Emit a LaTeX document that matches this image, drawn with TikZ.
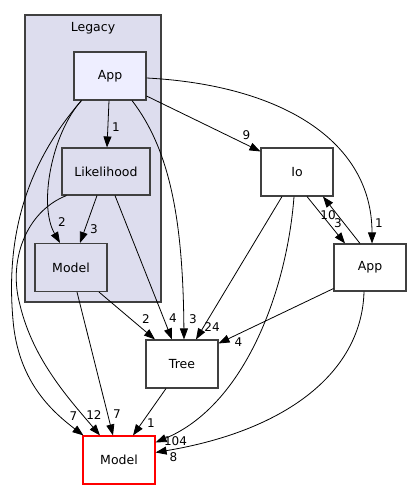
\documentclass[tikz,border=0pt]{standalone}
\usepackage{fontspec}
\setmainfont{DejaVu Sans}
\usetikzlibrary{arrows.meta}
\definecolor{frame}{HTML}{404040}
\definecolor{clusterbg}{HTML}{DDDDEE}
\definecolor{mainbg}{HTML}{EEEEFF}
\definecolor{hot}{HTML}{FF0000}

\begin{document}
\begin{tikzpicture}[x=1pt,y=-1pt,>={Triangle[length=11pt,width=8pt]},font=\fontsize{12.5}{14}\selectfont]
 \tikzstyle{dirnode}=[rectangle,draw=frame,line width=1.1pt,fill=white,minimum width=72pt,minimum height=48pt,inner sep=0pt]
 \tikzstyle{innode}=[dirnode,fill=clusterbg]
 \tikzstyle{topnode}=[dirnode,fill=mainbg]
 \tikzstyle{hotnode}=[dirnode,draw=hot]
 \tikzstyle{cluster}=[rectangle,draw=frame,line width=1.1pt,fill=clusterbg,minimum width=136pt,minimum height=287pt,inner sep=0pt]
 \tikzstyle{dep}=[->,black,line width=0.8pt]
 \tikzstyle{lbl}=[inner sep=0pt,font=\fontsize{12}{14}\selectfont]
 \useasboundingbox (0,0) rectangle (411,489);
 % Legacy cluster
 \node[cluster] (legacy) at (93,158.5) {};
 \node[inner sep=0pt] (legacytitle) at (93,28) {Legacy};
 \node[topnode] (lapp) at (110,76) {App};
 \node[innode,minimum width=88pt,minimum height=47pt] (lh) at (106,171.5) {Likelihood};
 \node[innode] (lmodel) at (71,267.5) {Model};
 % outside
 \node[dirnode] (io) at (297,172) {Io};
 \node[dirnode,minimum height=47pt] (rapp) at (370,267.5) {App};
 \node[dirnode] (tree) at (182,364) {Tree};
 \node[hotnode] (model) at (119,460) {Model};
 % Legacy/App
 \draw[dep] ([xshift=-1pt]lapp.south) -- ([xshift=1pt]lh.north) node[lbl,at end,xshift=9pt,yshift=20pt] (l1) {1};
 \draw[dep] ([yshift=-20pt]lapp.east) -- ([yshift=-4pt]io.north west) node[lbl,at end,xshift=-14pt,yshift=16pt] (l2) {9};
 \draw[dep] ([yshift=-2pt]lapp.east) .. controls (280,85) and (372,140) .. ([xshift=2pt]rapp.north) node[lbl,at end,xshift=7pt,yshift=20pt] (l3) {1};
 \draw[dep] ([xshift=8pt]lapp.south west) .. controls (52,133) and (38,205) .. ([xshift=-11pt]lmodel.north) node[lbl,at end,xshift=2pt,yshift=21pt] (l4) {2};
 \draw[dep] ([xshift=8pt]lapp.south west) .. controls (30,160) and (5,230) .. (13,320) .. controls (18,380) and (50,410) .. ([xshift=1pt]model.north west) node[lbl,at end,xshift=-10pt,yshift=19pt] (l5) {7};
 \draw[dep] ([xshift=22pt]lapp.south) .. controls (170,150) and (183,220) .. ([xshift=2pt]tree.north) node[lbl,at end,xshift=9pt,yshift=20pt] (l6) {3};
 % Legacy/Likelihood
 \draw[dep] ([xshift=-9pt]lh.south) -- ([xshift=9pt]lmodel.north) node[lbl,at end,xshift=14pt,yshift=14pt] (l7) {3};
 \draw[dep] ([xshift=9pt]lh.south) -- ([xshift=-10pt]tree.north) node[lbl,at end,xshift=1pt,yshift=21pt] (l8) {4};
 \draw[dep] ([xshift=5pt]lh.south west) .. controls (25,212) and (8,262) .. (20,305) .. controls (33,360) and (70,400) .. ([xshift=-19pt]model.north) node[lbl,at end,xshift=-6pt,yshift=20pt] (l9) {12};
 % Legacy/Model
 \draw[dep] ([xshift=28pt]lmodel.south) -- ([xshift=-27pt]tree.north) node[lbl,at end,xshift=-9pt,yshift=20pt] (l10) {2};
 \draw[dep] ([xshift=6pt]lmodel.south) -- ([xshift=-6pt]model.north) node[lbl,at end,xshift=4pt,yshift=21pt] (l11) {7};
 % Io
 \draw[dep] ([xshift=-15pt]io.south) -- ([xshift=14pt]tree.north) node[lbl,at end,xshift=16pt,yshift=12pt] (l12) {24};
 \draw[dep] ([xshift=-3pt]io.south) .. controls (287,290) and (245,405) .. ([yshift=-7pt]model.north east) node[lbl,at end,xshift=20pt,yshift=1pt] (l13) {104};
 \draw[dep] ([xshift=10pt]io.south) -- ([xshift=-25pt]rapp.north) node[lbl,at end,xshift=-7pt,yshift=20pt] (l14) {3};
 % App
 \draw[dep] ([xshift=-10pt]rapp.north) -- ([xshift=26pt]io.south) node[lbl,at end,xshift=5pt,yshift=-19pt] (l15) {10};
 \draw[dep] ([yshift=3pt]rapp.south west) -- ([yshift=-4pt]tree.north east) node[lbl,at end,xshift=20pt,yshift=1pt] (l16) {4};
 \draw[dep] ([xshift=-6pt]rapp.south) .. controls (362,370) and (290,430) .. ([yshift=-17pt]model.north east) node[lbl,at end,xshift=18pt,yshift=-5pt] (l17) {8};
 % Tree
 \draw[dep] ([xshift=-16pt]tree.south) -- ([xshift=14pt]model.north) node[lbl,at end,xshift=18pt,yshift=12pt] (l18) {1};
\end{tikzpicture}
\end{document}
